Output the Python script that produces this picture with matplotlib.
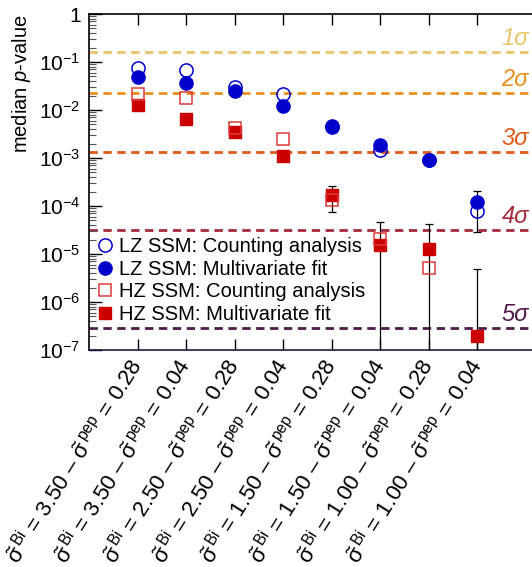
import numpy as np
import matplotlib
matplotlib.use("Agg")
import matplotlib.pyplot as plt
from matplotlib.lines import Line2D

plt.rcParams['font.family'] = ['Liberation Sans', 'DejaVu Sans']
plt.rcParams['mathtext.fontset'] = 'custom'
plt.rcParams['mathtext.rm'] = 'Liberation Sans'
plt.rcParams['mathtext.it'] = 'Liberation Sans:italic'

# ===============================
# DATA
# ===============================
bi_values = ["3.50", "3.50", "2.50", "2.50", "1.50", "1.50", "1.00", "1.00"]
pep_values = ["0.28", "0.04", "0.28", "0.04", "0.28", "0.04", "0.28", "0.04"]

lz_count = [0.074, 0.068, 0.030, 0.022, 0.0045, 0.00145, 0.0009, 8.0e-5]
lz_fit = [0.049, 0.037, 0.025, 0.012, 0.0046, 0.00185, 0.0009, 1.2e-4]
hz_count = [0.0215, 0.018, 0.0042, 0.0025, 1.35e-4, 2.1e-5, 5.0e-6, np.nan]
hz_fit = [0.013, 0.0065, 0.0035, 0.0011, 1.7e-4, 1.55e-5, 1.3e-5, 2.0e-7]

# error bands (upper / lower) for the multivariate fits
lz_fit_hi = [np.nan, np.nan, np.nan, np.nan, np.nan, np.nan, 0.00098, 2.1e-4]
lz_fit_lo = [np.nan, np.nan, np.nan, np.nan, np.nan, np.nan, 0.00072, 2.9e-5]
hz_fit_hi = [np.nan, np.nan, np.nan, np.nan, 2.65e-4, 4.6e-5, 4.2e-5, 4.8e-6]
hz_fit_lo = [np.nan, np.nan, np.nan, np.nan, 7.6e-5, 1e-9, 1e-9, 1e-9]

sigma_names = ["1σ", "2σ", "3σ", "4σ", "5σ"]
sigma_pvals = [0.1587, 0.02275, 0.00135, 3.17e-5, 2.87e-7]
sigma_colors = ["#e8c36a", "#e8901e", "#e05a1a", "#a52a3c", "#4e1a4a"]

BLUE = "#0000cc"
RED = "#cc0000"

x = np.arange(1, len(bi_values) + 1)
tick_labels = [r"$\tilde{\mathrm{\sigma}}^{\,\mathrm{Bi}}$ = %s – $\tilde{\mathrm{\sigma}}^{\,\mathrm{pep}}$ = %s" % (b, p)
               for b, p in zip(bi_values, pep_values)]

# ===============================
# FIGURE
# ===============================
fig = plt.figure(figsize=(5.32, 5.67), dpi=100)
ax = fig.add_axes([89 / 532, 217 / 567, 461 / 532, 336 / 567])
ax.set_yscale('log')
ax.set_ylim(1e-7, 1)
ax.set_xlim(0, 9.5)

# sigma lines
for name, pv, col in zip(sigma_names, sigma_pvals, sigma_colors):
    ax.axhline(pv, color=col, lw=2, ls=(0, (3, 2)), zorder=1)
    ax.text(8.5, pv * 1.1, name, color=col, fontsize=17, style='italic',
            ha='left', va='bottom', zorder=2)

# error bars
def draw_err(vals, hi, lo):
    vals = np.array(vals, dtype=float)
    hi = np.array(hi, dtype=float)
    lo = np.array(lo, dtype=float)
    m = ~np.isnan(hi)
    ax.errorbar(x[m], vals[m], yerr=[vals[m] - lo[m], hi[m] - vals[m]],
                fmt='none', ecolor='black', elinewidth=0.9, capsize=3,
                capthick=0.9, zorder=3)

draw_err(lz_fit, lz_fit_hi, lz_fit_lo)
draw_err(hz_fit, hz_fit_hi, hz_fit_lo)

ms = 9.5
ax.plot(x, lz_fit, 'o', color=BLUE, ms=ms, mec=BLUE, zorder=4, clip_on=False)
ax.plot(x, hz_fit, 's', color=RED, ms=ms - 0.5, mec=RED, zorder=4)
ax.plot(x, lz_count, 'o', mfc='none', mec=BLUE, ms=ms, mew=1.1, zorder=5)
ax.plot(x, hz_count, 's', mfc='none', mec="#dd3a3a", ms=ms - 0.5, mew=1.1, zorder=5)

# legend
handles = [
    Line2D([], [], marker='o', ls='none', mfc='none', mec=BLUE, ms=ms, mew=1.1),
    Line2D([], [], marker='o', ls='none', color=BLUE, ms=ms),
    Line2D([], [], marker='s', ls='none', mfc='none', mec="#dd3a3a", ms=ms - 0.5, mew=1.1),
    Line2D([], [], marker='s', ls='none', color=RED, ms=ms - 0.5),
]
labels = ["LZ SSM: Counting analysis", "LZ SSM: Multivariate fit",
          "HZ SSM: Counting analysis", "HZ SSM: Multivariate fit"]
ax.legend(handles, labels, loc='upper left', bbox_to_anchor=(0.0, 0.36),
          frameon=False, fontsize=14.5, handlelength=0.8, handletextpad=0.3,
          labelspacing=0.18, borderaxespad=0.2, borderpad=0.2)

# axes styling
ax.set_xticks(x)
ax.set_xticklabels(tick_labels, rotation=58, ha='right', va='center',
                   rotation_mode='anchor', fontsize=16)
ax.set_yticks([10.0 ** k for k in range(-7, 1)])
ax.set_yticklabels([r"$10^{-%d}$" % k for k in range(7, 0, -1)] + ["1"], fontsize=15)
ax.tick_params(axis='x', which='major', direction='in', length=8, top=True,
               width=1, pad=8)
ax.tick_params(axis='y', which='major', direction='in', length=9, right=True,
               width=1, pad=6)
ax.tick_params(axis='y', which='minor', direction='in', length=5, right=True,
               width=0.8, color='#555555')
ax.tick_params(axis='x', which='minor', bottom=False, top=False)
for s in ax.spines.values():
    s.set_linewidth(1.2)
ax.spines['bottom'].set_color('#1a1a40')

ax.set_ylabel(r"median $p$-value", fontsize=14.5, loc='top', labelpad=4)

fig.savefig("out.png", dpi=100)
